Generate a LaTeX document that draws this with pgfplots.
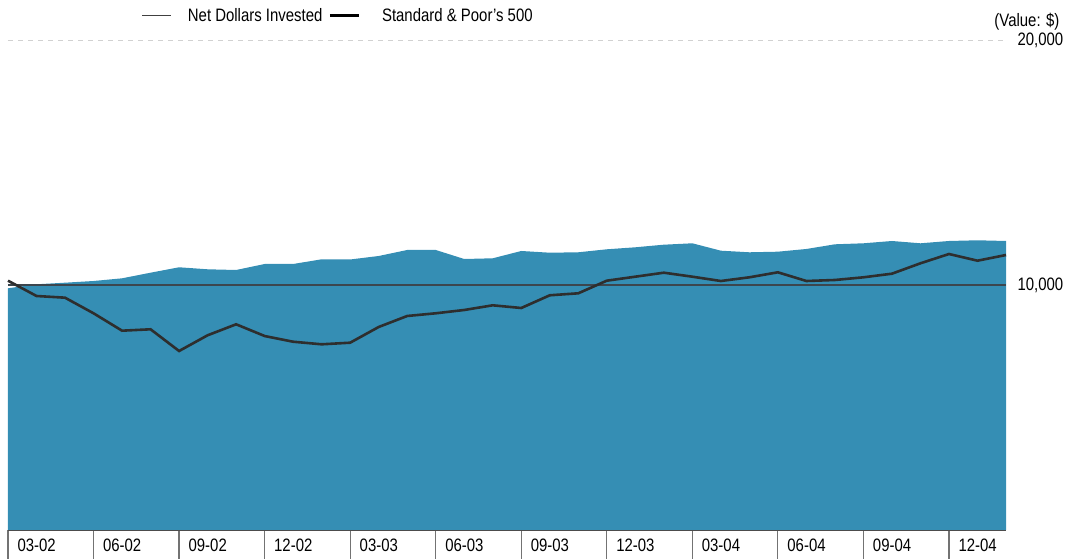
\documentclass[border=0pt]{standalone}
\usepackage{pgfplots}
\pgfplotsset{compat=1.18}
\usepackage{fontspec}
\setmainfont[FakeStretch=0.83]{Liberation Sans}
\definecolor{areablue}{RGB}{53,142,180}
\definecolor{spline}{RGB}{46,46,46}
\definecolor{netline}{RGB}{60,70,78}
\begin{document}
\begin{tikzpicture}[x=1pt,y=1pt]
\path[use as bounding box] (0,0) rectangle (1065,559);
\begin{axis}[
  at={(8pt,29pt)}, anchor=south west,
  scale only axis, width=998pt, height=490pt,
  xmin=0, xmax=35, ymin=0, ymax=20000,
  scaled y ticks=false,
  axis x line*=bottom, axis y line*=right,
  y axis line style={draw=none},
  x axis line style={draw=black!70, line width=0.8pt},
  ytick={10000,20000}, yticklabels={{10,000},{20,000}},
  ytick style={draw=none},
  yticklabel style={anchor=west, xshift=-23pt, font=\fontsize{18}{21}\selectfont},
  xtick={0,3,...,33},
  xticklabels={03-02,06-02,09-02,12-02,03-03,06-03,09-03,12-03,03-04,06-04,09-04,12-04},
  tick align=outside, major tick length=31pt,
  xtick style={draw=black!55, line width=1.2pt},
  xticklabel style={anchor=west, xshift=6pt, yshift=16pt, font=\fontsize{18}{21}\selectfont},
  ymajorgrids, major grid style={dash pattern=on 5pt off 5pt, draw=black!18, line width=0.8pt},
  /pgf/number format/assume math mode=true,
  clip=false,
  legend style={at={(0.131,1.05)}, anchor=west, draw=none, fill=none,
    font=\fontsize{18}{21}\selectfont, legend columns=2,
    /tikz/every odd column/.append style={column sep=14pt},
    /tikz/every even column/.append style={column sep=4pt}},
  legend cell align=left,
]
\addplot[fill=areablue, draw=none, forget plot] coordinates {
(0,9865) (1,10029) (2,10094) (3,10163) (4,10273) (5,10502) (6,10723) (7,10641) (8,10612) (9,10857)
(10,10857) (11,11049) (12,11041) (13,11184) (14,11429) (15,11429) (16,11061) (17,11090) (18,11388) (19,11318)
(20,11335) (21,11457) (22,11539) (23,11645) (24,11702) (25,11400) (26,11335) (27,11359) (28,11470) (29,11661)
(30,11702) (31,11796) (32,11702) (33,11796) (34,11825) (35,11796)} \closedcycle;
\addplot[netline, line width=1.4pt, legend image code/.code={\draw[black!75, line width=1pt] (0pt,0pt) -- (29pt,0pt);}] coordinates {
(0,10000) (1,10000) (2,10000) (3,10000) (4,10000) (5,10000) (6,10000) (7,10000) (8,10000) (9,10000)
(10,10000) (11,10000) (12,10000) (13,10000) (14,10000) (15,10000) (16,10000) (17,10000) (18,10000) (19,10000)
(20,10000) (21,10000) (22,10000) (23,10000) (24,10000) (25,10000) (26,10000) (27,10000) (28,10000) (29,10000)
(30,10000) (31,10000) (32,10000) (33,10000) (34,10000) (35,10000)};
\addlegendentry{Net Dollars Invested}
\addplot[spline, line width=2.6pt, legend image code/.code={\draw[black, line width=2.6pt] (0pt,0pt) -- (29pt,0pt);}] coordinates {
(0,10176) (1,9551) (2,9482) (3,8845) (4,8135) (5,8192) (6,7306) (7,7947) (8,8396) (9,7918)
(10,7685) (11,7579) (12,7645) (13,8286) (14,8735) (15,8845) (16,8980) (17,9171) (18,9061) (19,9580)
(20,9661) (21,10176) (22,10339) (23,10502) (24,10339) (25,10163) (26,10314) (27,10518) (28,10163) (29,10204)
(30,10314) (31,10461) (32,10886) (33,11265) (34,10992) (35,11225)};
\addlegendentry{\hspace{6pt}Standard \& Poor's 500}
\end{axis}
\node[anchor=east, font=\fontsize{18}{21}\selectfont] at (1063,537) {(Value: \$)};
\end{tikzpicture}
\end{document}
